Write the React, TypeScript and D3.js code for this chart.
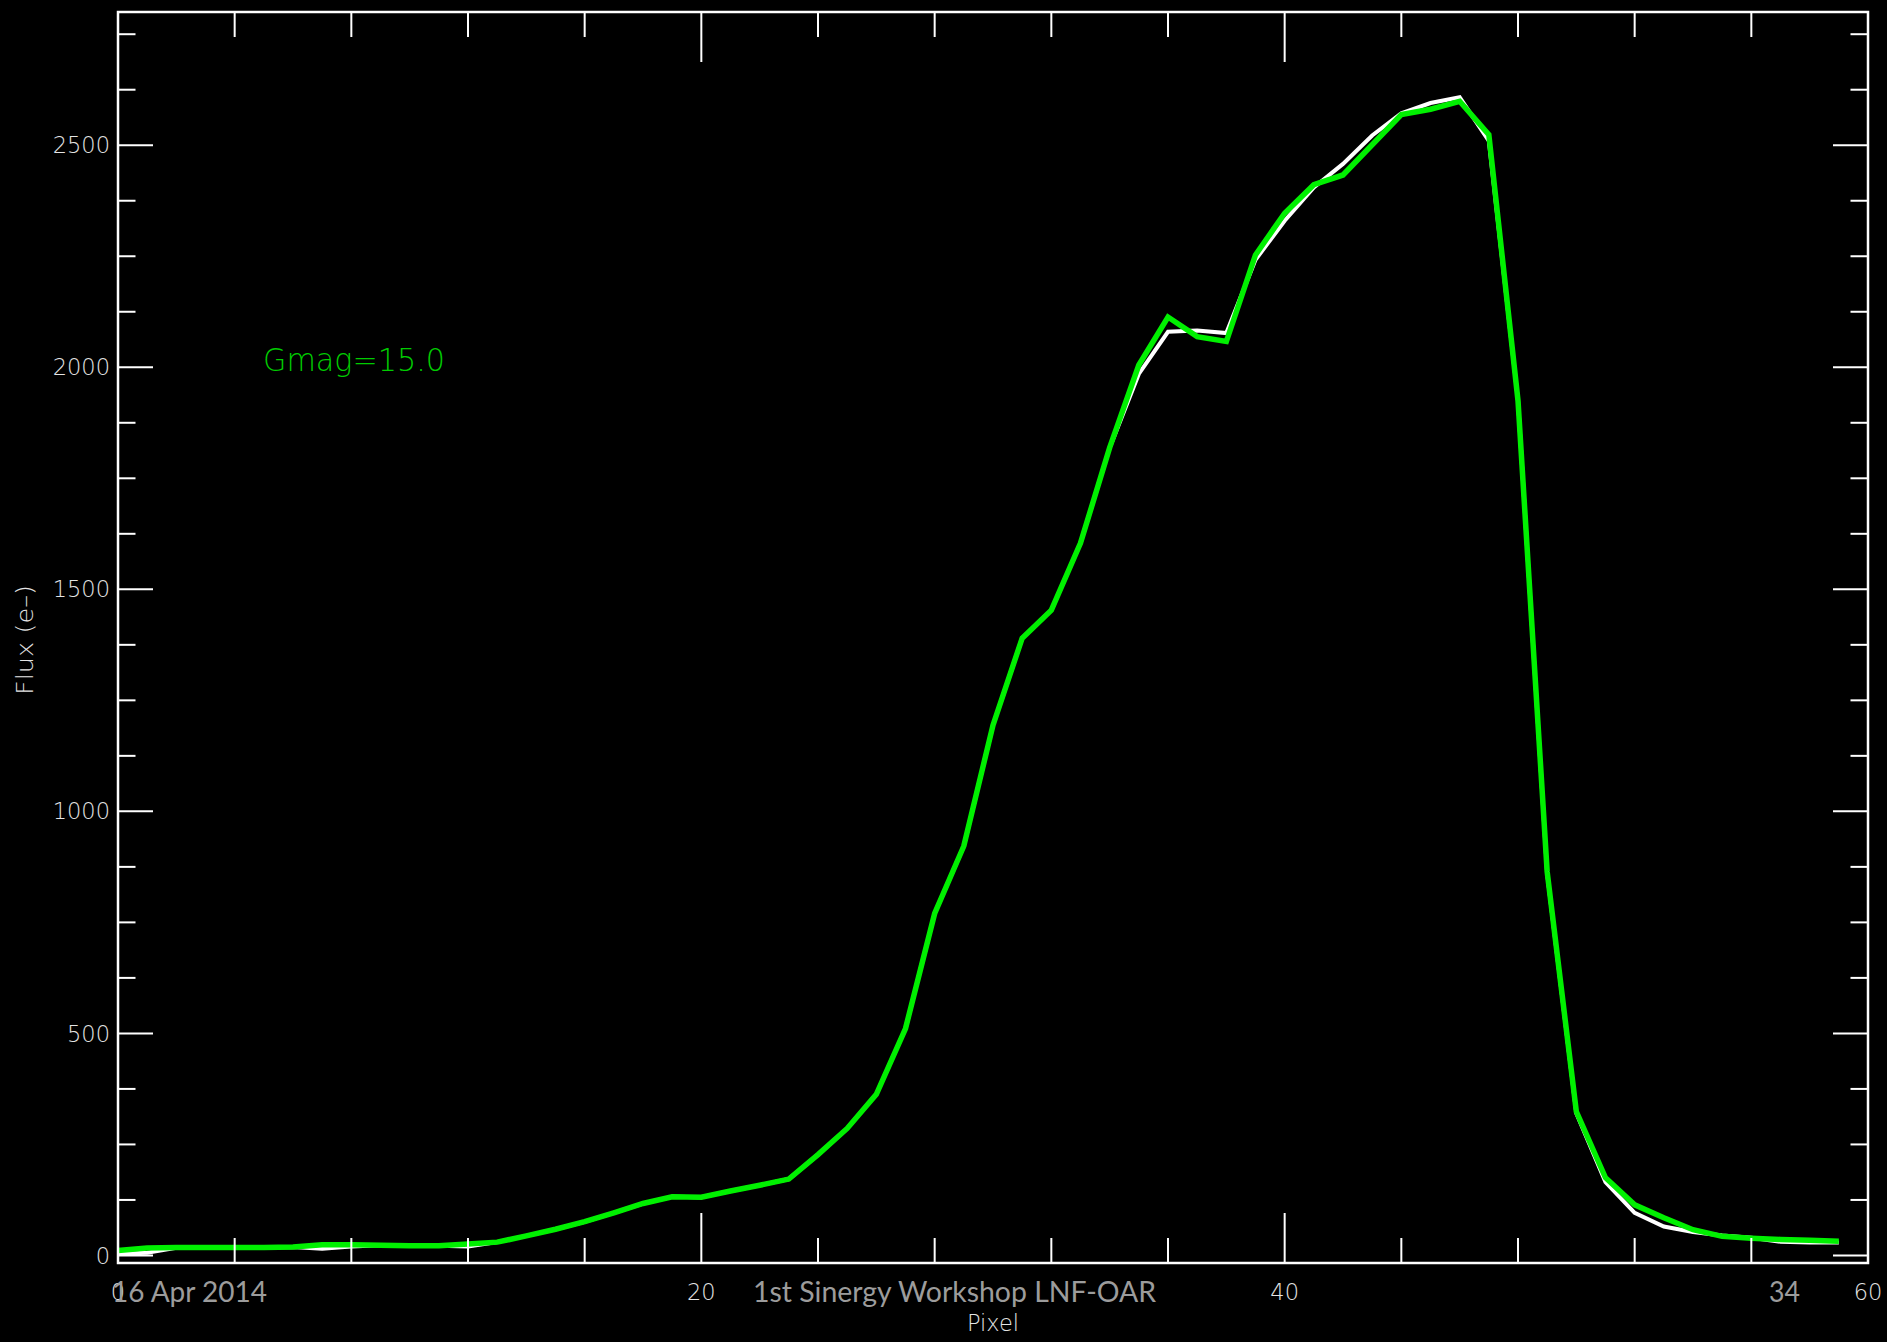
import * as d3 from 'd3';

// flux per pixel (pixel = array index)
const MODEL_FLUX = [
  4, 6, 17, 18, 18, 18, 19, 15, 20, 23,
  22, 22, 20, 30, 44, 59, 76, 96, 117, 132,
  131, 145, 158, 172, 227, 286, 363, 511, 770, 922,
  1194, 1390, 1453, 1604, 1819, 1985, 2080, 2083, 2077, 2242,
  2330, 2405, 2458, 2522, 2572, 2595, 2608, 2510, 1925, 860,
  320, 165, 96, 65, 53, 45, 40, 31, 29, 29,
];
const SIM_FLUX = [
  11, 17, 18, 18, 18, 18, 19, 24, 24, 23,
  22, 22, 26, 30, 44, 59, 76, 96, 117, 132,
  131, 145, 158, 172, 227, 286, 363, 511, 770, 922,
  1194, 1390, 1453, 1604, 1819, 2005, 2113, 2069, 2058, 2253,
  2347, 2411, 2433, 2501, 2569, 2581, 2599, 2524, 1925, 864,
  324, 175, 114, 85, 58, 43, 39, 36, 34, 32,
];

const X_MAJOR = [0, 20, 40, 60];
const Y_MAJOR = [0, 500, 1000, 1500, 2000, 2500];
const X_DOMAIN = [0, 60];
const Y_DOMAIN = [-17, 2800];

const W = 1887;
const H = 1342;
const box = { left: 118, right: 1868, top: 12, bottom: 1263 };

const AXIS = '#ffffff';
const LABEL = '#e4e4e4';
const FOOT = '#9c9c9c';
const tickFont = { fontFamily: 'DejaVu Sans', fontWeight: 200, fontSize: 22.5 };

export default function App() {
  const x = d3.scaleLinear().domain(X_DOMAIN).range([box.left, box.right]);
  const y = d3.scaleLinear().domain(Y_DOMAIN).range([box.bottom, box.top]);

  const xMinor = d3.range(0, 61, 4).filter(v => v % 20 !== 0);
  const yMinor = d3.range(125, 2800, 125).filter(v => v % 500 !== 0);

  const line = d3.line<number>().x((_, i) => x(i)).y(d => y(d));

  const xTickLen = 50, xMinorLen = 25;
  const yTickLen = 35, yMinorLen = 17.5;

  return (
    <div style={{ position: 'fixed', left: 0, top: 0, width: W, height: H, background: '#000' }}>
      <svg width={W} height={H} style={{ display: 'block' }}>
        <rect width={W} height={H} fill="#000" />

        {/* curves */}
        <path d={line(MODEL_FLUX) ?? ''} fill="none" stroke="#ffffff" strokeWidth={4} strokeLinejoin="miter" />
        <path d={line(SIM_FLUX) ?? ''} fill="none" stroke="#00f000" strokeWidth={5.5} strokeLinejoin="miter" />

        {/* frame */}
        <rect x={box.left} y={box.top} width={box.right - box.left} height={box.bottom - box.top}
          fill="none" stroke={AXIS} strokeWidth={2.5} />

        <g stroke={AXIS} strokeWidth={2}>
          {X_MAJOR.map(v => (
            <g key={'xm' + v}>
              <line x1={x(v)} x2={x(v)} y1={box.bottom} y2={box.bottom - xTickLen} />
              <line x1={x(v)} x2={x(v)} y1={box.top} y2={box.top + xTickLen} />
            </g>
          ))}
          {xMinor.map(v => (
            <g key={'xn' + v}>
              <line x1={x(v)} x2={x(v)} y1={box.bottom} y2={box.bottom - xMinorLen} />
              <line x1={x(v)} x2={x(v)} y1={box.top} y2={box.top + xMinorLen} />
            </g>
          ))}
          {Y_MAJOR.map(v => (
            <g key={'ym' + v}>
              <line x1={box.left} x2={box.left + yTickLen} y1={y(v)} y2={y(v)} />
              <line x1={box.right} x2={box.right - yTickLen} y1={y(v)} y2={y(v)} />
            </g>
          ))}
          {yMinor.map(v => (
            <g key={'yn' + v}>
              <line x1={box.left} x2={box.left + yMinorLen} y1={y(v)} y2={y(v)} />
              <line x1={box.right} x2={box.right - yMinorLen} y1={y(v)} y2={y(v)} />
            </g>
          ))}
        </g>

        {/* tick labels */}
        <g fill={LABEL} style={tickFont}>
          {Y_MAJOR.map(v => (
            <text key={'yl' + v} x={box.left - 8} y={y(v)} dy="0.36em" textAnchor="end">{String(v)}</text>
          ))}
          {X_MAJOR.map(v => (
            <text key={'xl' + v} x={x(v)} y={1300} textAnchor="middle">{String(v)}</text>
          ))}
          <text x={(box.left + box.right) / 2} y={1331} textAnchor="middle">Pixel</text>
          <text transform="translate(33, 640) rotate(-90)" textAnchor="middle"
            textLength={110} lengthAdjust="spacingAndGlyphs">Flux (e–)</text>
        </g>

        <text x={263} y={371} fill="#00cc00" fontFamily="DejaVu Sans" fontWeight={200} fontSize={32}
          textLength={182} lengthAdjust="spacingAndGlyphs">Gmag=15.0</text>

        {/* slide footer */}
        <g fill={FOOT} fontFamily="Lato" fontSize={28}>
          <text x={112} y={1302} textLength={155} lengthAdjust="spacingAndGlyphs">16 Apr 2014</text>
          <text x={753} y={1302} textLength={403} lengthAdjust="spacingAndGlyphs">1st Sinergy Workshop LNF-OAR</text>
          <text x={1769} y={1302} textLength={31} lengthAdjust="spacingAndGlyphs">34</text>
        </g>
      </svg>
    </div>
  );
}
